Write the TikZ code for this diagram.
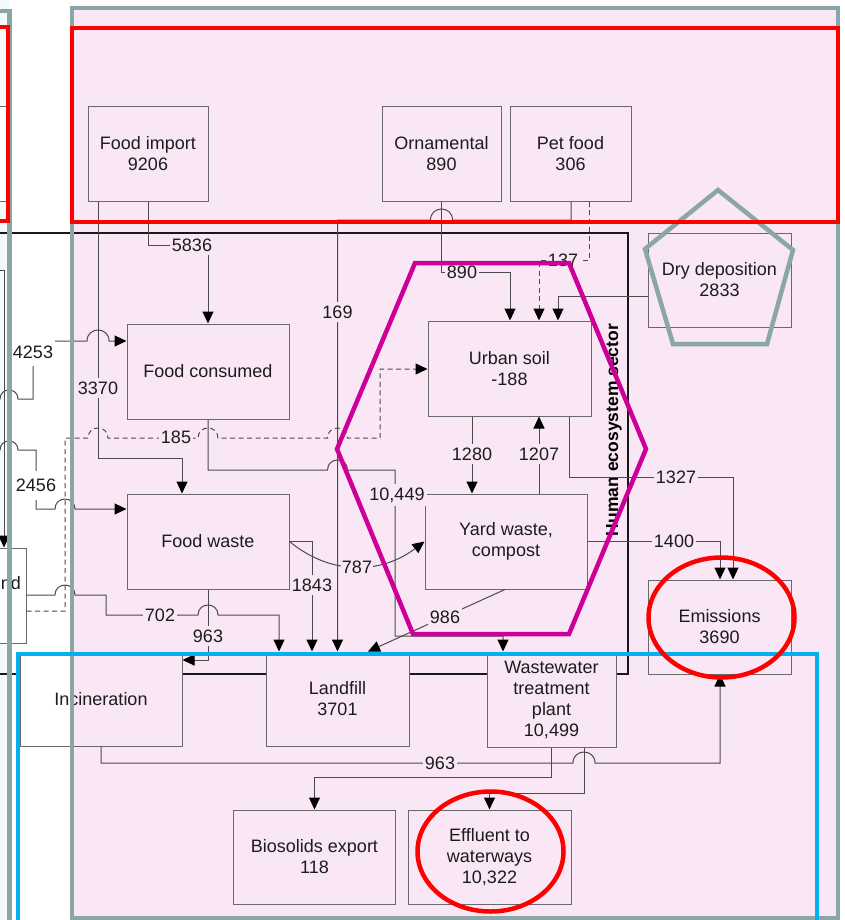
\documentclass[tikz,border=0pt]{standalone}
\usepackage{fontspec}
\setmainfont{Liberation Sans}
\usetikzlibrary{arrows.meta}

\definecolor{pinkbg}{RGB}{249,231,246}
\definecolor{stripbg}{RGB}{244,250,250}
\definecolor{framegray}{RGB}{139,166,166}
\definecolor{hexmag}{RGB}{204,0,153}
\definecolor{zoneblue}{RGB}{0,176,240}
\definecolor{flowgray}{RGB}{75,75,75}
\definecolor{edgegray}{RGB}{105,105,105}
\definecolor{ink}{RGB}{28,28,28}

% line hop over a crossing vertical line: centre x, level y, radius r
\def\hopr#1#2#3{-- ({#1-#3},#2) .. controls ({#1-#3},{#2-1.33*#3}) and ({#1+#3},{#2-1.33*#3}) .. ({#1+#3},#2)}
\def\hopl#1#2#3{-- ({#1+#3},#2) .. controls ({#1+#3},{#2-1.33*#3}) and ({#1-#3},{#2-1.33*#3}) .. ({#1-#3},#2)}

\tikzset{
  wh/.style 2 args={minimum width=#1pt, minimum height=#2pt},
  stock/.style={draw=edgegray, line width=1pt, fill=pinkbg, align=center,
    inner sep=0pt, text=ink, font=\fontsize{18}{21}\selectfont},
  flow/.style={draw=flowgray, line width=1pt,
    -{Triangle[width=11pt,length=12pt,color=black]}},
  dashflow/.style={flow, dash pattern=on 5pt off 3.5pt},
  qty/.style={fill=pinkbg, inner xsep=2pt, inner ysep=4pt, text=ink,
    font=\fontsize{18}{21}\selectfont},
  mark frame/.style={line width=4.5pt, line join=miter},
}

\begin{document}
\begin{tikzpicture}[x=1pt, y=-1pt]
\useasboundingbox (0,0) rectangle (844,920);
\clip (0,0) rectangle (844,920);

% backgrounds
\fill[white] (0,0) rectangle (844,920);
\fill[stripbg] (0,0) rectangle (9,920);
\fill[pinkbg] (72,8) rectangle (838,918);

% human ecosystem sector frame
\draw[line width=2pt, black!90] (0,233) -- (628,233) -- (628,674) -- (0,674);
\node[rotate=90, text=black, font=\fontsize{17.5}{21}\selectfont\bfseries] (sector) at (614,430) {Human ecosystem sector};

% stocks
\node[stock, fill=white, wh={110}{94}] (lb) at (-46,154) {};
\node[stock, wh={120}{94}] (fi) at (148,154) {Food import\\9206};
\node[stock, wh={119}{94}] (orn) at (441.5,154) {Ornamental\\890};
\node[stock, wh={121}{94}] (pet) at (570.5,154) {Pet food\\306};
\node[stock, wh={143}{94}] (dry) at (719.5,280) {Dry deposition\\2833};
\node[stock, wh={162}{95}] (fc) at (208,371.5) {Food consumed};
\node[stock, wh={163}{95}] (us) at (509.5,368.5) {Urban soil\\-188};
\node[stock, wh={162}{95}] (fw) at (208,541.5) {Food waste};
\node[stock, wh={162}{95}] (yw) at (506,541.5) {Yard waste,\\compost};
\node[stock, wh={143}{94}] (em) at (719.5,627) {Emissions\\3690};
\node[stock, fill=white, wh={86}{95}] (nd) at (-17,595.5) {};
\node[text=ink, font=\fontsize{18}{21}\selectfont, anchor=east, inner sep=0pt] (ndtext) at (21,583) {nd};
\fill[white] (20,652) rectangle (72,746);
\fill[pinkbg] (72,652) rectangle (182,746);
\node[stock, fill=none, wh={162}{94}] (inc) at (101,699) {Incineration};
\node[stock, wh={143}{94}] (lf) at (337.5,699) {Landfill\\3701};
\node[stock, wh={129}{95}] (ww) at (551.5,699.5) {Wastewater\\treatment\\plant\\10,499};
\node[stock, wh={162}{94}] (bio) at (314.5,857) {Biosolids export\\118};
\node[stock, wh={163}{94}] (eff) at (489.5,857) {Effluent to\\waterways\\10,322};

% flows
\draw[flow] (0,270) -- (4,270) -- (nd.north -| 4,0);
\draw[flow] (fi.south) -- (148,245) -| (fc.north);
\draw[flow] (fi.south -| 98,0) -- (98,458) -| (fw.north -| 182,0);
\draw[flow] (-1,399) \hopr{9}{399}{9} -- (33,399) -- (33,341) \hopr{98}{341}{11} -- (fc.west |- 0,341);
\draw[flow] (-1,450) \hopr{9}{450}{9} -- (36,450) -- (36,509) \hopr{65}{509}{10} -- (fw.west |- 0,509);
\draw[dashflow] (nd.east |- 0,611) -- (65,611) -- (65,438) \hopr{98}{438}{10} \hopr{208}{438}{10} \hopr{337.5}{438}{10} -- (380,438) -- (380,369) -- (us.west |- 0,369);
\draw[flow] (pet.south -| 571,0) -- (571,220) \hopl{441.5}{220}{11} -- (337.5,220) -- (lf.north);
\draw[dashflow] (pet.south -| 589,0) -- (589,260) -- (539,260) -- (us.north -| 539,0);
\draw[flow] (orn.south) -- (441.5,272) -| (us.north -| 510,0);
\draw[flow] (dry.west |- 0,296) -| (us.north -| 558,0);
\draw[flow] (us.south -| 472,0) -- (yw.north -| 472,0);
\draw[flow] (yw.north -| 539,0) -- (us.south -| 539,0);
\draw[flow] (us.south -| 569,0) -- (569,477) -| (em.north -| 733,0);
\draw[flow] (yw.east) -| (em.north -| 720,0);
\draw[flow] (fc.south) -- (208,470) \hopr{337.5}{470}{10} -- (395,470) -- (395,636) -| (ww.north -| 503,0);
\draw[flow] (fw.east) .. controls (330,575) and (380,575) .. (yw.west);
\draw[flow] (fw.east) -- (312,541.5) -- (lf.north -| 312,0);
\draw[flow] (nd.east |- 0,595) \hopr{65}{595}{10} -- (106,595) -- (106,615) \hopr{208}{615}{10} -- (279,615) -- (lf.north -| 279,0);
\draw[flow] (fw.south) -- (208,660) -- (inc.east |- 0,660);
\draw[flow] (yw.south -| 505,0) -- (lf.north -| 368,0);
\draw[flow] (ww.south -| 551,0) -- (551,777) -| (bio.north);
\draw[flow] (ww.south -| 584,0) -- (584,793) -| (eff.north);
\draw[flow] (inc.south) -- (101,763) \hopr{584}{763}{11} -- (720,763) -- (em.south -| 720,0);

% flow quantities
\node[qty] (q5836) at (192,245) {5836};
\node[qty] (q3370) at (98,388) {3370};
\node[qty, fill=white, inner ysep=8pt] (q4253) at (33,352) {4253};
\node[qty, fill=white, inner ysep=8pt] (q2456) at (36,485.5) {2456};
\node[qty] (q185) at (176,437) {185};
\node[qty] (q169) at (337.5,312) {169};
\node[qty] (q137) at (563,260) {137};
\node[qty] (q890) at (462,272) {890};
\node[qty] (q1280) at (472,454) {1280};
\node[qty] (q1207) at (539,454) {1207};
\node[qty] (q1327) at (676,477) {1327};
\node[qty] (q1400) at (674,541.5) {1400};
\node[qty] (q10449) at (397,495) {10,449};
\node[qty, inner xsep=1pt] (q787) at (357,567) {787};
\node[qty] (q1843) at (312,585) {1843};
\node[qty] (q702) at (160,615) {702};
\node[qty] (q963a) at (208,636) {963};
\node[qty] (q986) at (445,617) {986};
\node[qty] (q963b) at (440,763) {963};

% highlight marks
\draw[mark frame, framegray] (-60,11) -- (9.5,11) -- (9.5,940);
\draw[mark frame, framegray] (72,8) rectangle (838,918);
\draw[mark frame, framegray] (718,190) -- (793,250) -- (767,344) -- (673,344) -- (645,249) -- cycle;
\draw[mark frame, red] (-60,27) rectangle (8,221);
\draw[mark frame, red] (72,28) rectangle (838,222);
\draw[mark frame, hexmag] (415,263) -- (569,263) -- (646,449) -- (569,634) -- (413,634) -- (337,449) -- cycle;
\draw[mark frame, zoneblue] (18,654) rectangle (817,960);
\draw[mark frame, red] (721.5,617.5) ellipse [x radius=73, y radius=60];
\draw[mark frame, red] (490.5,851.5) ellipse [x radius=73, y radius=60];
\end{tikzpicture}
\end{document}
